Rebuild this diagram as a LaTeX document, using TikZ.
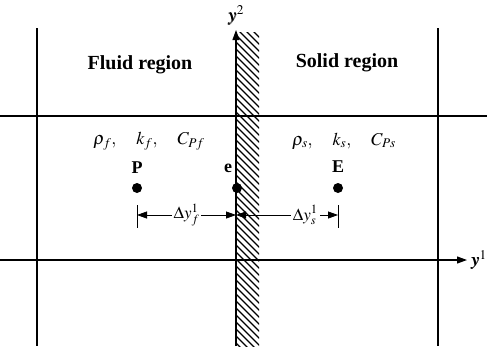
\documentclass[tikz,border=0pt]{standalone}
\usepackage{mathptmx}
\usepackage{bm}
\usepackage{fontspec}
\setmainfont{Liberation Serif}
\usetikzlibrary{arrows.meta}

\begin{document}
\begin{tikzpicture}[x=1pt,y=-1pt,>={Triangle[length=10pt,width=7pt]},line width=1.1pt,
  region/.style={font=\fontsize{20}{24}\selectfont\bfseries},
  ptlabel/.style={font=\fontsize{18}{22}\selectfont\bfseries},
  prop/.style={font=\fontsize{18}{21}\selectfont},
  point/.style={circle,fill,inner sep=0pt,minimum size=10pt},
  dimlabel/.style={fill=white,inner sep=2pt,font=\fontsize{17}{20}\selectfont}]
  \useasboundingbox (0,0) rectangle (487,346);
  % hatched wall
  \begin{scope}
    \clip (236,32) rectangle (259,346);
    \foreach \y in {0,7,...,350}
      \draw[line width=1.1pt] (236,\y) -- (262,\y+26);
  \end{scope}
  % grid lines
  \draw (37,28) -- (37,346);
  \draw (438,28) -- (438,346);
  \draw (0,116) -- (487,116);
  \coordinate (x0) at (0,260);
  \coordinate (x1) at (467,260);
  \coordinate (v0) at (236,346);
  \coordinate (v1) at (236,30);
  \draw[->] (x0) -- (x1);
  \draw[->] (v0) -- (v1);
  \node[prop,right=0pt] (ax1) at (x1) {$\bm{y}^1$};
  \node[prop,above=1pt] (ax2) at (v1) {$\bm{y}^2$};
  % regions and properties
  \node[region] (fluid) at (140,65) {Fluid region};
  \node[region] (solid) at (347,63) {Solid region};
  \node[prop] (propf) at (149,141) {$\rho_f,\quad k_f,\quad C_{Pf}$};
  \node[prop] (props) at (344,141) {$\rho_s,\quad k_s,\quad C_{Ps}$};
  % grid points
  \node[point] (P) at (137,188) {};
  \node[point] (e) at (237,188) {};
  \node[point] (E) at (338,188) {};
  \node[ptlabel] (lP) at (137,168) {P};
  \node[ptlabel] (le) at (228,168) {e};
  \node[ptlabel] (lE) at (338,167) {E};
  % distances
  \coordinate (tPa) at (137,205);
  \coordinate (tPb) at (137,228);
  \coordinate (tEa) at (338,205);
  \coordinate (tEb) at (338,228);
  \coordinate (dP) at (137,215);
  \coordinate (de) at (236,215);
  \coordinate (dE) at (338,215);
  \draw[line width=0.8pt] (tPa) -- (tPb);
  \draw[line width=0.8pt] (tEa) -- (tEb);
  \draw[<->,line width=0.8pt] (dP) -- (de) node[dimlabel,midway] (df) {$\Delta y^1_f$};
  \draw[<->,line width=0.8pt] (de) -- (dE) node[dimlabel,pos=0.68] (ds) {$\Delta y^1_s$};
\end{tikzpicture}
\end{document}
